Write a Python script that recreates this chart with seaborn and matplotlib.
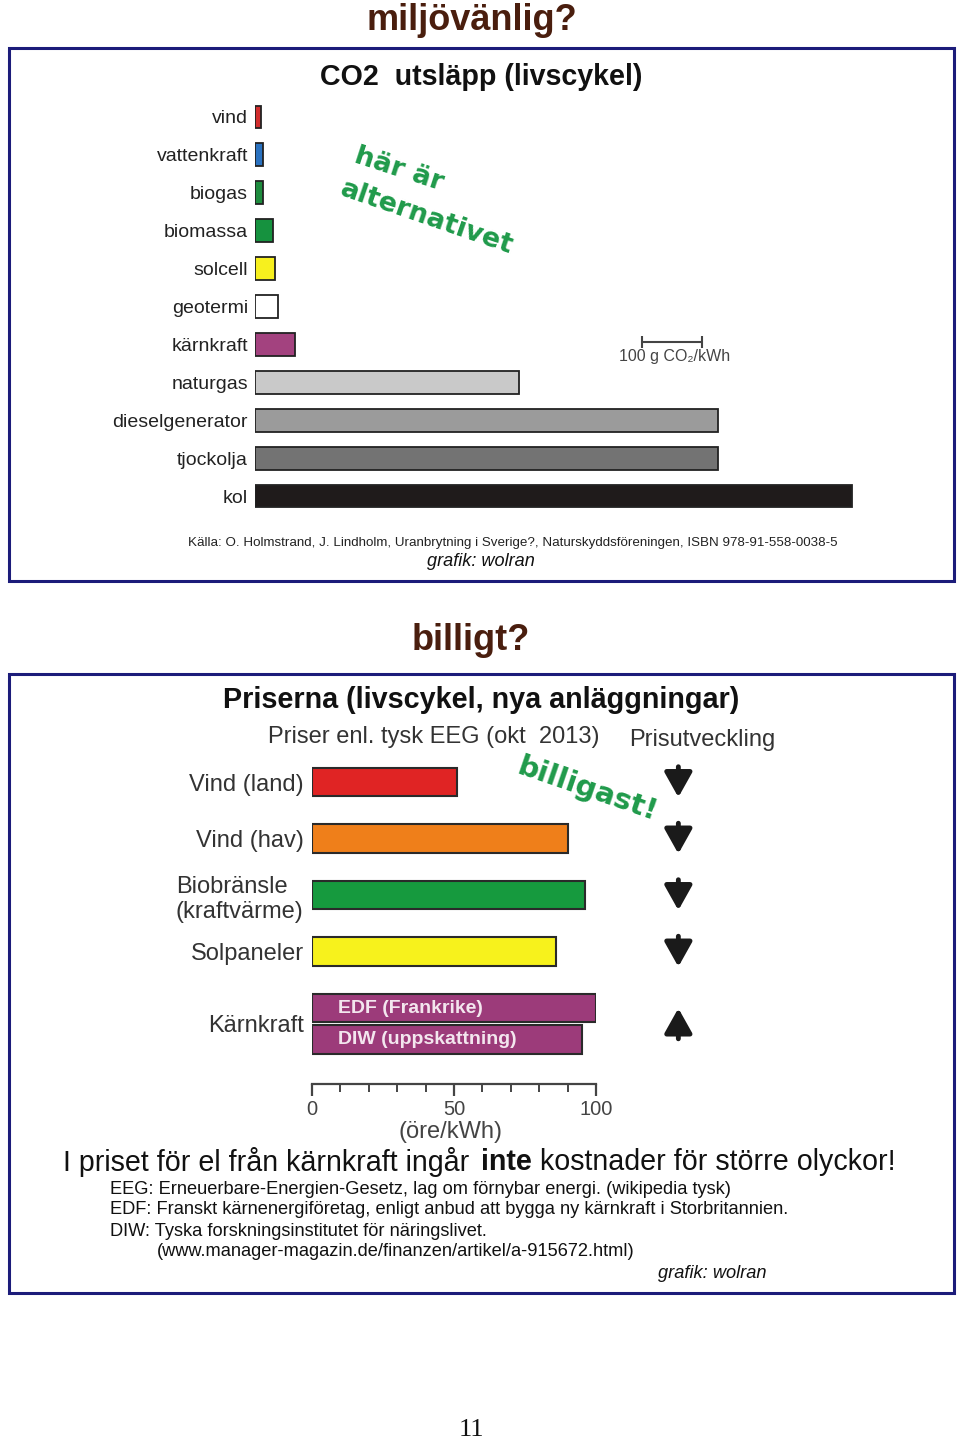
import matplotlib
matplotlib.use('Agg')
import matplotlib.pyplot as plt
import seaborn as sns
import pandas as pd
from matplotlib.patches import Rectangle
from matplotlib import font_manager

sns.set_style('white')
plt.rcParams['font.family'] = ['Liberation Sans', 'DejaVu Sans']

# ---------------- data ----------------
co2_sources = ["vind", "vattenkraft", "biogas", "biomassa", "solcell", "geotermi",
               "kärnkraft", "naturgas", "dieselgenerator", "tjockolja", "kol"]
co2_values = [10, 13, 13, 30, 33, 38, 67, 445, 780, 780, 1005]
co2_colors = ["#d22d2d", "#2a72c0", "#1e8c3e", "#16923f", "#f7f01e", "#ffffff",
              "#a3427f", "#c9c9c9", "#9b9b9b", "#737373", "#1f1b1b"]
scale_len = 100  # g CO2/kWh

price_labels = ["Vind (land)", "Vind (hav)", "Biobränsle\n(kraftvärme)", "Solpaneler",
                "EDF (Frankrike)", "DIW (uppskattning)"]
price_values = [51, 90, 96, 86, 100, 95]
price_colors = ["#e02424", "#ef7f1a", "#169a3e", "#f7f21c", "#9c3b7a", "#9c3b7a"]
trend_labels = ["Vind (land)", "Vind (hav)", "Biobränsle\n(kraftvärme)", "Solpaneler", "Kärnkraft"]
trend_dir = [-1, -1, -1, -1, 1]
price_ticks = [0, 50, 100]
price_minor = [0, 10, 20, 30, 40, 50, 60, 70, 80, 90, 100]

# layout (row positions of the price bars)
price_rows = [0, 1, 2, 3, 4, 4.55]

W, H = 960, 1444
def fx(x): return x / W
def fy(y): return 1 - y / H

narrow = 'Liberation Sans Narrow' if any(f.name == 'Liberation Sans Narrow'
                                           for f in font_manager.fontManager.ttflist) else 'Liberation Sans'

fig = plt.figure(figsize=(9.6, 14.44), dpi=100)
fig.patch.set_facecolor('white')
fig.canvas.draw()
renderer = fig.canvas.get_renderer()

def fit_text(x, y, s, width, ha='center', va='center', **kw):
    t = fig.text(fx(x), fy(y), s, ha=ha, va=va, fontsize=10, **kw)
    w = t.get_window_extent(renderer).width
    t.set_fontsize(10 * width / w)
    return t

# ---------------- boxes ----------------
for (x0, y0, x1, y1) in [(9, 48, 954, 581), (9, 674, 954, 1293)]:
    fig.patches.append(Rectangle((fx(x0), fy(y1)), (x1 - x0) / W, (y1 - y0) / H,
                                 transform=fig.transFigure, fill=False,
                                 edgecolor='#1c1c7a', linewidth=2.2))

title_col = '#4a1e0e'
fig.text(fx(472), fy(20), "miljövänlig?", ha='center', va='center', fontsize=26,
         fontweight='bold', color=title_col)
fig.text(fx(471), fy(640), "billigt?", ha='center', va='center', fontsize=26,
         fontweight='bold', color=title_col)

# ---------------- top chart ----------------
fit_text(481, 77, "CO2  utsläpp (livscykel)", 324, fontweight='bold', color='#111111')

ax1 = fig.add_axes([fx(255), fy(515), 600 / W, 417 / H])
df1 = pd.DataFrame({"source": co2_sources, "value": co2_values})
sns.barplot(data=df1, x="value", y="source", hue="source", hue_order=co2_sources,
            palette=co2_colors, saturation=1, orient='h', width=0.6, legend=False,
            errorbar=None, edgecolor='#222222', linewidth=1.3, ax=ax1)
ax1.set_xlim(0, 1010)
ax1.set_ylim(10.5, -0.5)
for sp in ax1.spines.values():
    sp.set_visible(False)
ax1.set_xticks([])
ax1.set_xlabel('')
ax1.set_ylabel('')
ax1.tick_params(axis='y', length=0, pad=5, labelsize=14, labelcolor='#222222')
ax1.patch.set_alpha(0)

# scale bar
sx0 = 652
ax1.plot([sx0, sx0 + scale_len], [5.94, 5.94], color='#444444', lw=1.5, clip_on=False)
ax1.plot([sx0, sx0 + scale_len], [5.94, 5.94], ls='none', marker='|', ms=9, mew=1.5,
         color='#444444', clip_on=False)
ax1.text(sx0 + scale_len / 2 + 5, 6.33, "100 g CO₂/kWh", ha='center', va='center',
         fontsize=11.5, color='#444444', family=['Liberation Sans', 'DejaVu Sans'])

green = '#1f9a4a'
fig.text(fx(397), fy(176), "här är", ha='center', va='baseline', rotation=-18,
         rotation_mode='anchor', fontsize=19.5, fontweight='bold', color=green,
         family=['DejaVu Sans'])
fig.text(fx(424), fy(224), "alternativet", ha='center', va='baseline', rotation=-19,
         rotation_mode='anchor', fontsize=19.5, fontweight='bold', color=green,
         family=['DejaVu Sans'])

fit_text(513, 543, "Källa: O. Holmstrand, J. Lindholm, Uranbrytning i Sverige?, "
         "Naturskyddsföreningen, ISBN 978-91-558-0038-5", 651, family=[narrow, 'DejaVu Sans'],
         color='#222222')
fit_text(481, 562, "grafik: wolran", 108, family=[narrow, 'DejaVu Sans'], style='italic',
         color='#111111')

# ---------------- bottom chart ----------------
fit_text(481, 700, "Priserna (livscykel, nya anläggningar)", 518, fontweight='bold',
         color='#111111')
fig.text(fx(434), fy(737), "Priser enl. tysk EEG (okt  2013)", ha='center', va='center',
         fontsize=17, color='#333333')
fig.text(fx(702), fy(740), "Prisutveckling", ha='center', va='center', fontsize=17,
         color='#333333')

ax2 = fig.add_axes([fx(312), fy(1084), 284 / W, 330.25 / H])
df2 = pd.DataFrame({"pos": price_rows, "value": price_values, "name": price_labels})
sns.barplot(data=df2, x="value", y="pos", hue="name", hue_order=price_labels,
            palette=price_colors, saturation=1, orient='h', native_scale=True, width=0.93,
            dodge=False, legend=False, errorbar=None, edgecolor='#2a2a2a', linewidth=1.5,
            ax=ax2)
ax2.set_xlim(0, 100)
ax2.set_ylim(5.345, -0.5)
for k in ['top', 'right', 'left']:
    ax2.spines[k].set_visible(False)
ax2.spines['bottom'].set_bounds(0, 100)
ax2.spines['bottom'].set_color('#444444')
ax2.spines['bottom'].set_linewidth(1.6)
ax2.set_xticks(price_ticks)
ax2.set_xticks(price_minor, minor=True)
ax2.tick_params(axis='x', which='both', bottom=True, direction='out')
ax2.tick_params(axis='x', which='major', length=8.5, width=1.6, color='#444444',
                labelsize=14.5, labelcolor='#444444', pad=3)
ax2.tick_params(axis='x', which='minor', length=5.5, width=1.4, color='#444444')
ax2.tick_params(axis='y', length=0, pad=6, labelsize=17, labelcolor='#333333')
ax2.set_xlabel('')
ax2.set_ylabel('')
nuc_pos = (price_rows[4] + price_rows[5]) / 2
ax2.set_yticks(price_rows[:4] + [nuc_pos])
ax2.set_yticklabels(trend_labels)
for lab in ax2.get_yticklabels():
    lab.set_multialignment('left')
ax2.patch.set_alpha(0)

for r, lab in zip(price_rows[4:], price_labels[4:]):
    ax2.text(9.2, r, lab, ha='left', va='center', fontsize=14, fontweight='bold',
             color='#f3e6ee')

# trend arrows
xa = 129
trend_rows = price_rows[:4] + [nuc_pos]
for r, d in zip(trend_rows, trend_dir):
    ax2.annotate('', xy=(xa, r + 0.27 * (-d)), xytext=(xa, r - 0.27 * (-d)),
                 arrowprops=dict(arrowstyle='-|>,head_length=0.75,head_width=0.42',
                                 lw=3.5, color='#1a1a1a', mutation_scale=20,
                                 shrinkA=0, shrinkB=0),
                 annotation_clip=False)

fig.text(fx(450), fy(1132), "(öre/kWh)", ha='center', va='center', fontsize=17,
         color='#444444')

fig.text(fx(585), fy(797), "billigast!", ha='center', va='baseline', rotation=-19,
         rotation_mode='anchor', fontsize=21, fontweight='bold', color=green,
         family=['DejaVu Sans'])

# mixed-weight statement line
parts = [("I priset för el från kärnkraft ingår", 'normal'), ("inte", 'bold'),
         ("kostnader för större olyckor!", 'normal')]
ptexts = []
for s, wgt in parts:
    t = fig.text(0, fy(1162), s, ha='left', va='center', fontsize=10, fontweight=wgt,
                 family=[narrow, 'DejaVu Sans'], color='#111111')
    ptexts.append(t)
t1 = fig.text(0, 0, "x x", fontsize=10, family=[narrow, 'DejaVu Sans'])
t2 = fig.text(0, 0, "xx", fontsize=10, family=[narrow, 'DejaVu Sans'])
space = t1.get_window_extent(renderer).width - t2.get_window_extent(renderer).width
t1.remove(); t2.remove()
widths = [t.get_window_extent(renderer).width for t in ptexts]
total = sum(widths) + 2 * space
scale = 835 / total
xcur = 63
for t, w in zip(ptexts, widths):
    t.set_fontsize(10 * scale)
    t.set_x(fx(xcur))
    xcur += (w + space) * scale

notes = [(110, 1189, "EEG: Erneuerbare-Energien-Gesetz, lag om förnybar energi. (wikipedia tysk)", 624),
         (110, 1210, "EDF: Franskt kärnenergiföretag, enligt anbud att bygga ny kärnkraft i Storbritannien.", 683),
         (110, 1231, "DIW: Tyska forskningsinstitutet för näringslivet.", 380),
         (157, 1252, "(www.manager-magazin.de/finanzen/artikel/a-915672.html)", 479)]
for x, y, s, w in notes:
    fit_text(x, y, s, w, ha='left', family=[narrow, 'DejaVu Sans'], color='#111111')
fit_text(712, 1274, "grafik: wolran", 109, family=[narrow, 'DejaVu Sans'], style='italic',
         color='#111111')

fig.text(fx(471), fy(1430), "11", ha='center', va='center', fontsize=19,
         family=['Liberation Serif', 'DejaVu Serif'], color='#111111')

fig.savefig('out.png', dpi=100, facecolor='white')
